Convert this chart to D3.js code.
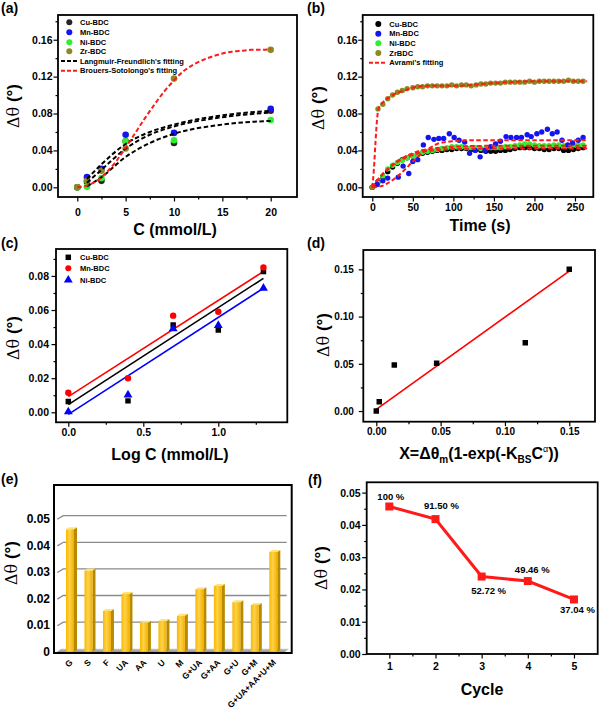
<!DOCTYPE html>
<html><head><meta charset="utf-8">
<script src="https://cdn.jsdelivr.net/npm/d3@7/dist/d3.min.js"></script>
<style>body{margin:0;background:#fff}svg{display:block;font-family:"Liberation Sans",Arial,sans-serif}</style>
</head><body><svg id="c" width="600" height="723"></svg>
<script>
// ---------- (a) isotherm data ----------
const isoC  = [0, 1, 2.5, 5, 10, 20];
const isoCu = [0, 0.006, 0.007, 0.050, 0.048, 0.083];
const isoMn = [0, 0.011, 0.020, 0.057, 0.059, 0.085];
const isoNi = [0, 0.0005, 0.010, 0.050, 0.051, 0.073];
const isoZr = [0, 0.007, 0.018, 0.042, 0.118, 0.149];
const lfC  = [1, 2.5, 5, 7.5, 10, 15, 20];
const lfMn = [0.009, 0.025, 0.047, 0.060, 0.068, 0.078, 0.083];
const lfCu = [0.005, 0.019, 0.042, 0.057, 0.066, 0.076, 0.081];
const lfNi = [0.001, 0.011, 0.033, 0.048, 0.058, 0.068, 0.072];
const bsC  = [0, 1, 2, 3, 4, 5, 6, 7, 8, 9, 10, 11, 12, 13, 14, 15, 16, 17, 18, 19, 20];
const bsZr = [0, 0.002, 0.007, 0.016, 0.028, 0.043, 0.059, 0.075, 0.090, 0.104, 0.116, 0.126, 0.133, 0.138, 0.142, 0.145, 0.147, 0.148, 0.149, 0.149, 0.150];

// ---------- (b) kinetics data ----------
const kinT  = [0,7,13,19,25,31,37,43,50,56,62,68,74,80,86,92,98,104,110,116,122,128,134,140,146,152,158,164,170,176,182,188,194,200,206,212,218,224,230,236,242,248,254,260];
const kinCu = [0,0.006,0.011,0.017,0.022,0.026,0.030,0.032,0.034,0.036,0.037,0.038,0.039,0.040,0.040,0.041,0.041,0.042,0.042,0.042,0.041,0.041,0.040,0.039,0.039,0.039,0.040,0.040,0.041,0.042,0.043,0.043,0.043,0.042,0.042,0.041,0.041,0.042,0.042,0.040,0.040,0.041,0.042,0.043];
const kinNi = [0,0.005,0.012,0.020,0.024,0.027,0.029,0.032,0.034,0.036,0.038,0.039,0.040,0.041,0.042,0.043,0.044,0.044,0.044,0.043,0.043,0.043,0.042,0.042,0.043,0.043,0.043,0.044,0.044,0.045,0.046,0.047,0.047,0.046,0.045,0.045,0.045,0.046,0.046,0.045,0.045,0.046,0.046,0.046];
const kinZr = [0,0.085,0.090,0.096,0.100,0.103,0.105,0.107,0.108,0.109,0.109,0.110,0.110,0.110,0.110,0.110,0.111,0.110,0.111,0.111,0.110,0.111,0.112,0.112,0.113,0.113,0.113,0.114,0.114,0.114,0.114,0.114,0.115,0.114,0.115,0.115,0.115,0.115,0.115,0.115,0.116,0.115,0.115,0.115];
const kinMnT = [0,6,13,19,32,38,45,50,56,63,69,76,82,88,95,101,107,114,120,127,133,139,146,152,158,165,171,178,184,191,196,203,209,216,222,228,234,241,247,254,260];
const kinMn  = [0,0.003,0.007,0.010,0.011,0.023,0.015,0.028,0.030,0.046,0.054,0.052,0.053,0.053,0.058,0.054,0.051,0.049,0.037,0.040,0.033,0.040,0.044,0.047,0.050,0.055,0.054,0.054,0.054,0.057,0.055,0.058,0.060,0.063,0.058,0.060,0.051,0.046,0.048,0.051,0.054];
const avZrT = [0,2,4,6,8,12,20,30,40,50,70,100,150,200,265];
const avZr  = [0,0.020,0.050,0.075,0.086,0.091,0.097,0.102,0.105,0.108,0.110,0.110,0.113,0.115,0.115];
const avT   = [0,5,10,20,30,40,50,60,75,100,150,265];
const avCu  = [0,0.006,0.011,0.020,0.027,0.032,0.035,0.038,0.040,0.0415,0.042,0.042];
const avNi  = [0,0.006,0.012,0.021,0.028,0.033,0.037,0.040,0.042,0.044,0.045,0.045];
const avMnT = [0,10,20,30,40,50,60,70,80,90,100,120,265];
const avMn  = [0,0.001,0.005,0.011,0.019,0.028,0.036,0.042,0.047,0.049,0.050,0.051,0.051];

// ---------- (c) log fit ----------
const logC  = [0, 0.398, 0.699, 1.0, 1.301];
const logCu = [0.0063, 0.0067, 0.0512, 0.0483, 0.0826];
const logMn = [0.0115, 0.0200, 0.0567, 0.0590, 0.0850];
const logNi = [0.0003, 0.0102, 0.0490, 0.0510, 0.0728];
const linX  = [0, 1.301];
const linCu = [0.0045, 0.0786];
const linMn = [0.0092, 0.0826];
const linNi = [-0.0012, 0.0728];

// ---------- (d) BS linearisation ----------
const bsX  = [0, 0.0023, 0.014, 0.0469, 0.1158, 0.150];
const bsY  = [0, 0.0099, 0.0487, 0.0505, 0.0724, 0.150];
const bsLX = [0, 0.150];
const bsLY = [0.0018, 0.1482];

// ---------- (e) selectivity ----------
const selCats = ["G","S","F","UA","AA","U","M","G+UA","G+AA","G+U","G+M","G+UA+AA+U+M"];
const selVals = [0.046, 0.0305, 0.0153, 0.0217, 0.0109, 0.0115, 0.0135, 0.0235, 0.0247, 0.0186, 0.0176, 0.0375];
const selTicks = [0, 0.01, 0.02, 0.03, 0.04, 0.05];
const selTickLabels = ["0","0.01","0.02","0.03","0.04","0.05"];

// ---------- (f) reuse ----------
const cycles = [1, 2, 3, 4, 5];
const cycVals = [0.0457, 0.0418, 0.0240, 0.0226, 0.0169];
const cycLabels = ["100 %", "91.50 %", "52.72 %", "49.46 %", "37.04 %"];

const svg = d3.select("#c");
const zip = (a, b) => a.map((v, i) => [v, b[i]]);
const BOLD = "bold";

function frameAxes(o) {
  const g = svg.append("g");
  const x = d3.scaleLinear().domain(o.xd).range([o.x0, o.x1]);
  const y = d3.scaleLinear().domain(o.yd).range([o.y1, o.y0]);
  const fs = o.fs || 10.5;
  const ax = (sel) => { sel.select(".domain").remove(); sel.selectAll("line").attr("stroke", "#000").attr("stroke-width", 1.2);
    sel.selectAll("text").attr("font-size", fs).attr("font-weight", BOLD).attr("fill", "#000"); };
  g.append("g").attr("transform", `translate(0,${o.y1})`)
    .call(d3.axisBottom(x).tickValues(o.xm).tickSize(2.5).tickFormat("")).call(ax);
  g.append("g").attr("transform", `translate(0,${o.y1})`)
    .call(d3.axisBottom(x).tickValues(o.xt).tickSize(4.5).tickPadding(o.xpad).tickFormat(o.xf)).call(ax);
  g.append("g").attr("transform", `translate(${o.x0},0)`)
    .call(d3.axisLeft(y).tickValues(o.ym).tickSize(2.5).tickFormat("")).call(ax);
  g.append("g").attr("transform", `translate(${o.x0},0)`)
    .call(d3.axisLeft(y).tickValues(o.yt).tickSize(4.5).tickPadding(o.ypad).tickFormat(o.yf)).call(ax);
  const clip = "clip" + Math.round(o.x0) + Math.round(o.y0);
  svg.append("clipPath").attr("id", clip).append("rect")
    .attr("x", o.x0).attr("y", o.y0).attr("width", o.x1 - o.x0).attr("height", o.y1 - o.y0);
  const plot = svg.append("g").attr("clip-path", `url(#${clip})`);
  return { x, y, g, plot, o };
}
function drawFrame(p) {
  const o = p.o;
  svg.append("rect").attr("x", o.x0).attr("y", o.y0).attr("width", o.x1 - o.x0).attr("height", o.y1 - o.y0)
    .attr("fill", "none").attr("stroke", "#000").attr("stroke-width", 1.8);
}
function ytitle(xb, yc) {
  const t = svg.append("text").attr("transform", `translate(${xb},${yc}) rotate(-90)`)
    .attr("text-anchor", "middle").attr("font-size", 17).attr("fill", "#000");
  t.append("tspan").attr("font-family", "'DejaVu Serif',serif").attr("font-size", 16).text("Δθ");
  t.append("tspan").attr("font-weight", BOLD).text(" (°)");
}
function xtitle(xc, yb, txt) {
  svg.append("text").attr("x", xc).attr("y", yb).attr("text-anchor", "middle")
    .attr("font-size", 16).attr("font-weight", BOLD).text(txt);
}
function plabel(x, y, t) {
  svg.append("text").attr("x", x).attr("y", y).attr("font-size", 14).attr("font-weight", BOLD).text(t);
}
function legendText(x, y, t) {
  svg.append("text").attr("x", x).attr("y", y).attr("dy", "0.35em").attr("font-size", 7.5).attr("font-weight", BOLD).text(t);
}
const f2 = d3.format(".2f"), f1 = d3.format(".1f");

const COL = { Cu: "#262626", Mn: "#1414f0", Ni: "#2ef02e", Zr: "#8c8a1e" };

// ================= (a) =================
{
  const p = frameAxes({ x0: 58, x1: 297, y0: 15, y1: 197, xd: [-1.996, 22.72], yd: [-0.0105, 0.1868],
    xt: [0, 5, 10, 15, 20], xm: [2.5, 7.5, 12.5, 17.5], yt: [0, 0.04, 0.08, 0.12, 0.16], ym: [0.02, 0.06, 0.10, 0.14, 0.18],
    xf: d3.format("d"), yf: f2, xpad: 7, ypad: 1 });
  const { x, y, plot } = p;
  [["Cu", isoCu], ["Mn", isoMn], ["Ni", isoNi], ["Zr", isoZr]].forEach(([k, arr]) => {
    plot.selectAll(null).data(zip(isoC, arr)).enter().append("circle")
      .attr("cx", d => x(d[0])).attr("cy", d => y(d[1])).attr("r", 3.3).attr("fill", COL[k]);
  });
  const ln = d3.line().x(d => x(d[0])).y(d => y(d[1])).curve(d3.curveMonotoneX);
  [lfMn, lfCu, lfNi].forEach(arr => plot.append("path").attr("d", ln(zip(lfC, arr))).attr("fill", "none")
    .attr("stroke", "#000").attr("stroke-width", 2).attr("stroke-dasharray", "4.5,2.5"));
  plot.append("path").attr("d", ln(zip(bsC, bsZr))).attr("fill", "none")
    .attr("stroke", "#ff1a1a").attr("stroke-width", 2).attr("stroke-dasharray", "4.5,2.5");
  drawFrame(p);
  const lx = 69.3;
  [["Cu", "Cu-BDC", 22.3], ["Mn", "Mn-BDC", 32.3], ["Ni", "Ni-BDC", 42.3], ["Zr", "Zr-BDC", 51.3]].forEach(([k, t, yy]) => {
    svg.append("circle").attr("cx", lx).attr("cy", yy).attr("r", 3).attr("fill", COL[k]);
    legendText(80, yy, t);
  });
  [["#000", "Langmuir-Freundlich's fitting", 61], ["#ff1a1a", "Brouers-Sotolongo's fitting", 70.7]].forEach(([c, t, yy]) => {
    svg.append("line").attr("x1", 61).attr("x2", 77).attr("y1", yy).attr("y2", yy).attr("stroke", c)
      .attr("stroke-width", 2).attr("stroke-dasharray", "4,2");
    legendText(80, yy, t);
  });
  ytitle(19, 106);
  xtitle(175, 235, "C (mmol/L)");
  plabel(1, 12.5, "(a)");
}

// ================= (b) =================
{
  const p = frameAxes({ x0: 362.7, x1: 593.3, y0: 15, y1: 197, xd: [-11.84, 272.6], yd: [-0.0105, 0.1868],
    xt: [0, 50, 100, 150, 200, 250], xm: [25, 75, 125, 175, 225], yt: [0, 0.04, 0.08, 0.12, 0.16], ym: [0.02, 0.06, 0.10, 0.14, 0.18],
    xf: d3.format("d"), yf: f2, xpad: 2, ypad: 0.5 });
  const { x, y, plot } = p;
  const dots = (tt, vv, c) => plot.selectAll(null).data(zip(tt, vv)).enter().append("circle")
    .attr("cx", d => x(d[0])).attr("cy", d => y(d[1])).attr("r", 2.7).attr("fill", c);
  dots(kinT, kinCu, "#000");
  dots(kinT, kinNi, COL.Ni);
  dots(kinMnT, kinMn, COL.Mn);
  dots(kinT, kinZr, COL.Zr);
  const ln = d3.line().x(d => x(d[0])).y(d => y(d[1])).curve(d3.curveMonotoneX);
  [[avZrT, avZr], [avT, avCu], [avT, avNi], [avMnT, avMn]].forEach(([tt, vv]) =>
    plot.append("path").attr("d", ln(zip(tt, vv))).attr("fill", "none").attr("stroke", "#ff1a1a")
      .attr("stroke-width", 2).attr("stroke-dasharray", "4.5,2.5"));
  drawFrame(p);
  [["#000", "Cu-BDC", 24], [COL.Mn, "Mn-BDC", 33.7], [COL.Ni, "Ni-BDC", 43.3], [COL.Zr, "ZrBDC", 53]].forEach(([c, t, yy]) => {
    svg.append("circle").attr("cx", 378.3).attr("cy", yy).attr("r", 3).attr("fill", c);
    legendText(389.3, yy, t);
  });
  svg.append("line").attr("x1", 369).attr("x2", 386).attr("y1", 62.7).attr("y2", 62.7).attr("stroke", "#ff1a1a")
    .attr("stroke-width", 2).attr("stroke-dasharray", "4,2");
  legendText(389.3, 62.7, "Avrami's fitting");
  ytitle(324, 108);
  xtitle(480, 231, "Time (s)");
  plabel(307, 12.5, "(b)");
}

// ================= (c) =================
{
  const p = frameAxes({ x0: 56, x1: 287.3, y0: 249, y1: 422.3, xd: [-0.082, 1.46], yd: [-0.00587, 0.0958],
    xt: [0, 0.5, 1.0], xm: [0.25, 0.75, 1.25], yt: [0, 0.02, 0.04, 0.06, 0.08], ym: [0.01, 0.03, 0.05, 0.07, 0.09],
    xf: f1, yf: f2, xpad: 2, ypad: 2.5 });
  const { x, y, plot } = p;
  const ln = d3.line().x(d => x(d[0])).y(d => y(d[1]));
  [[linMn, "#ff0000"], [linCu, "#000"], [linNi, "#0000ff"]].forEach(([arr, c]) =>
    plot.append("path").attr("d", ln(zip(linX, arr))).attr("fill", "none").attr("stroke", c).attr("stroke-width", 1.6));
  const sq = d3.symbol().type(d3.symbolSquare).size(30)();
  const tri = d3.symbol().type(d3.symbolTriangle).size(34)();
  plot.selectAll(null).data(zip(logC, logCu)).enter().append("path").attr("d", sq)
    .attr("transform", d => `translate(${x(d[0])},${y(d[1])})`).attr("fill", "#000");
  plot.selectAll(null).data(zip(logC, logMn)).enter().append("circle")
    .attr("cx", d => x(d[0])).attr("cy", d => y(d[1])).attr("r", 3.2).attr("fill", "#ff0000");
  plot.selectAll(null).data(zip(logC, logNi)).enter().append("path").attr("d", tri)
    .attr("transform", d => `translate(${x(d[0])},${y(d[1])})`).attr("fill", "#0000ff");
  drawFrame(p);
  svg.append("path").attr("d", sq).attr("transform", "translate(68.3,257.3)").attr("fill", "#000");
  legendText(80, 257.3, "Cu-BDC");
  svg.append("circle").attr("cx", 68.3).attr("cy", 268.3).attr("r", 3).attr("fill", "#ff0000");
  legendText(80, 268.3, "Mn-BDC");
  svg.append("path").attr("d", tri).attr("transform", "translate(68.3,280)").attr("fill", "#0000ff");
  legendText(80, 280, "Ni-BDC");
  ytitle(19, 338);
  xtitle(170, 460, "Log C (mmol/L)");
  plabel(1, 247.5, "(c)");
}

// ================= (d) =================
{
  const p = frameAxes({ x0: 363.3, x1: 595, y0: 250, y1: 421.7, xd: [-0.0101, 0.170], yd: [-0.0113, 0.1705],
    xt: [0, 0.05, 0.10, 0.15], xm: [0.025, 0.075, 0.125], yt: [0, 0.05, 0.10, 0.15], ym: [0.025, 0.075, 0.125],
    xf: f2, yf: f2, xpad: 2, ypad: 5, fs: 10 });
  const { x, y, plot } = p;
  plot.append("path").attr("d", d3.line().x(d => x(d[0])).y(d => y(d[1]))(zip(bsLX, bsLY)))
    .attr("fill", "none").attr("stroke", "#ff0000").attr("stroke-width", 1.6);
  const sq = d3.symbol().type(d3.symbolSquare).size(30)();
  plot.selectAll(null).data(zip(bsX, bsY)).enter().append("path").attr("d", sq)
    .attr("transform", d => `translate(${x(d[0])},${y(d[1])})`).attr("fill", "#000");
  drawFrame(p);
  ytitle(329, 335);
  const t = svg.append("text").attr("x", 479).attr("y", 459).attr("text-anchor", "middle")
    .attr("font-size", 16).attr("font-weight", BOLD);
  t.append("tspan").text("X=Δθ");
  t.append("tspan").attr("font-size", 10).attr("dy", 4).text("m");
  t.append("tspan").attr("dy", -4).text("(1-exp(-K");
  t.append("tspan").attr("font-size", 10).attr("dy", 4).text("BS");
  t.append("tspan").attr("dy", -4).text("C");
  t.append("tspan").attr("font-size", 9).attr("font-weight", "normal").attr("dy", -7).text("α");
  t.append("tspan").attr("dy", 7).text("))");
  plabel(307, 247.5, "(d)");
}

// ================= (e) =================
{
  const fx0 = 54, fx1 = 291.7, fy0 = 485, fy1 = 653;
  const y = d3.scaleLinear().domain([0, 0.05]).range([651.7, 518.7]);
  const x = d3.scalePoint().domain(selCats).range([70, 273.3]);
  const defs = svg.append("defs");
  const gr = defs.append("linearGradient").attr("id", "barG").attr("x1", 0).attr("x2", 1).attr("y1", 0).attr("y2", 0);
  gr.append("stop").attr("offset", 0).attr("stop-color", "#f7b800");
  gr.append("stop").attr("offset", 0.45).attr("stop-color", "#ffd24a");
  gr.append("stop").attr("offset", 1).attr("stop-color", "#f0b000");
  const fl = defs.append("linearGradient").attr("id", "floorG").attr("x1", 0).attr("x2", 0).attr("y1", 0).attr("y2", 1);
  fl.append("stop").attr("offset", 0).attr("stop-color", "#c8c8c8");
  fl.append("stop").attr("offset", 1).attr("stop-color", "#7a7a7a");
  const dy = -3;
  svg.selectAll(null).data(selTicks.slice(1)).enter().append("path")
    .attr("d", d => `M57.3,${y(d) + 0.6}L63.3,${y(d) + dy}L286.7,${y(d) + dy}`)
    .attr("fill", "none").attr("stroke", "#8a8a8a").attr("stroke-width", 1.3);
  svg.append("path").attr("d", `M55,${y(0) + 1.8}L283,${y(0) + 1.8}L289,${y(0) - 3}L61,${y(0) - 3}Z`)
    .attr("fill", "url(#floorG)");
  const bw = 8, bd = 3, bh = -2;
  const bars = svg.selectAll(null).data(zip(selCats, selVals)).enter().append("g");
  bars.append("path").attr("d", d => { const l = x(d[0]) + bw / 2, t = y(d[1]), b = y(0);
      return `M${l},${t}L${l + bd},${t + bh}L${l + bd},${b + bh}L${l},${b}Z`; }).attr("fill", "#b88a00");
  bars.append("path").attr("d", d => { const l = x(d[0]) - bw / 2, t = y(d[1]);
      return `M${l},${t}L${l + bd},${t + bh}L${l + bw + bd},${t + bh}L${l + bw},${t}Z`; }).attr("fill", "#ffe27a");
  bars.append("rect").attr("x", d => x(d[0]) - bw / 2).attr("y", d => y(d[1])).attr("width", bw)
    .attr("height", d => y(0) - y(d[1])).attr("fill", "url(#barG)");
  svg.append("rect").attr("x", fx0).attr("y", fy0).attr("width", fx1 - fx0).attr("height", fy1 - fy0)
    .attr("fill", "none").attr("stroke", "#000").attr("stroke-width", 2);
  svg.selectAll(null).data(zip(selTicks, selTickLabels)).enter().append("text")
    .attr("x", 50).attr("y", d => y(d[0])).attr("dy", "0.35em").attr("text-anchor", "end")
    .attr("font-size", 12).attr("font-weight", BOLD).text(d => d[1]);
  svg.selectAll(null).data(selCats).enter().append("text")
    .attr("transform", d => `translate(${x(d) + 1},${661}) rotate(-45)`).attr("text-anchor", "end")
    .attr("dy", "0.35em").attr("font-size", 8.5).attr("font-weight", BOLD).text(d => d);
  ytitle(17, 563);
  plabel(1, 483.5, "(e)");
}

// ================= (f) =================
{
  const p = frameAxes({ x0: 366.7, x1: 597.7, y0: 482.3, y1: 654, xd: [0.51, 5.514], yd: [0, 0.0532],
    xt: [1, 2, 3, 4, 5], xm: [1.5, 2.5, 3.5, 4.5], yt: [0, 0.01, 0.02, 0.03, 0.04, 0.05], ym: [0.005, 0.015, 0.025, 0.035, 0.045],
    xf: d3.format("d"), yf: f2, xpad: 4, ypad: 1.5 });
  const { x, y } = p;
  svg.append("path").attr("d", d3.line().x(d => x(d[0])).y(d => y(d[1]))(zip(cycles, cycVals)))
    .attr("fill", "none").attr("stroke", "#ff1a1a").attr("stroke-width", 3);
  svg.selectAll(null).data(zip(cycles, cycVals)).enter().append("rect")
    .attr("x", d => x(d[0]) - 4).attr("y", d => y(d[1]) - 4).attr("width", 8).attr("height", 8).attr("fill", "#ff1a1a");
  drawFrame(p);
  const off = [[1.5, -7], [6, -10.5], [7, 17.5], [4.5, -8.5], [3.5, 14]];
  svg.selectAll(null).data(cycLabels).enter().append("text")
    .attr("x", (d, i) => x(cycles[i]) + off[i][0]).attr("y", (d, i) => y(cycVals[i]) + off[i][1])
    .attr("text-anchor", "middle").attr("font-size", 9.5).attr("font-weight", BOLD).text(d => d);
  ytitle(327, 568);
  xtitle(482, 695, "Cycle");
  plabel(308, 484.5, "(f)");
}
</script></body></html>
